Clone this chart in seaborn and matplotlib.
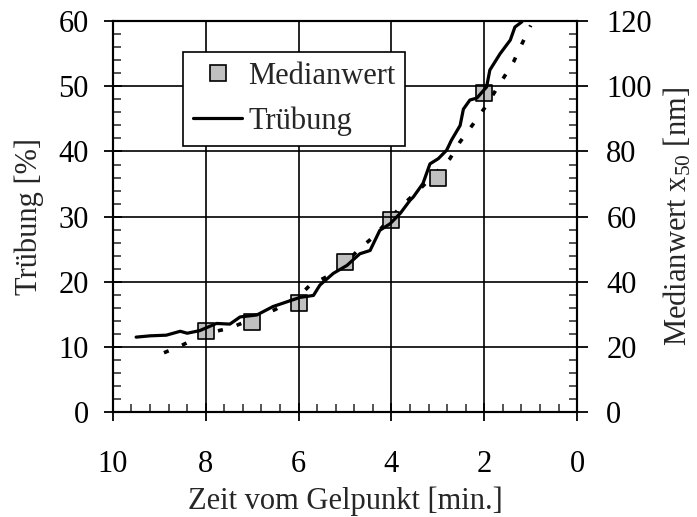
import matplotlib
matplotlib.use("Agg")
import matplotlib.pyplot as plt
import seaborn as sns
import numpy as np
import pandas as pd
from matplotlib.ticker import MultipleLocator
from matplotlib.lines import Line2D

# ---- data ----
median_x = [8, 7, 6, 5, 4, 3, 2]
median_nm = [25.0, 27.5, 33.5, 46.0, 59.0, 72.0, 98.0]

trueb_x = [9.5, 9.2, 8.85, 8.55, 8.4, 8.13, 7.77, 7.48, 7.26, 6.9, 6.55, 6.26, 5.97,
           5.68, 5.54, 5.25, 4.96, 4.68, 4.46, 4.25, 4.03, 3.81, 3.6, 3.53, 3.32,
           3.17, 2.99, 2.81, 2.71, 2.52, 2.45, 2.31, 2.16, 1.95, 1.88, 1.66, 1.44,
           1.34, 1.19]
trueb_y = [11.5, 11.7, 11.8, 12.4, 12.1, 12.5, 13.6, 13.5, 14.6, 14.9, 16.2, 16.9, 17.6,
           17.9, 19.5, 21.3, 22.5, 24.3, 24.8, 27.9, 28.9, 30.5, 32.5, 33.0, 35.1,
           38.1, 38.9, 40.2, 41.7, 44.0, 46.5, 47.9, 48.2, 49.9, 52.5, 55.0, 57.1,
           59.1, 59.9]

fit_x = [8.9, 8.5, 8.0, 7.5, 7.0, 6.5, 6.0, 5.75, 5.4, 5.0, 4.7, 4.4, 3.8, 3.35,
         2.74, 2.52, 2.23, 1.98, 1.62, 1.37, 1.19, 1.0]
fit_nm = [18.2, 20.6, 24.1, 25.7, 28.5, 31.5, 35.5, 39.0, 41.5, 45.5, 50.0, 53.6, 63.0,
          69.0, 77.8, 83.0, 88.6, 93.6, 101.8, 107.5, 113.0, 118.7]

legend_labels = ["Medianwert", "Trübung"]

# ---- style ----
sns.set_style("ticks")
plt.rcParams['font.family'] = ['Liberation Serif', 'DejaVu Serif']
plt.rcParams['mathtext.fontset'] = 'custom'
plt.rcParams['mathtext.rm'] = 'Liberation Serif'
plt.rcParams['mathtext.it'] = 'Liberation Serif'
FS = 22

fig = plt.figure(figsize=(6.97, 5.17), dpi=100)
ax = fig.add_axes([0.162, 0.203, 0.666, 0.756])
ax2 = ax.twinx()

df_t = pd.DataFrame({"x": trueb_x, "y": trueb_y})
df_m = pd.DataFrame({"x": median_x, "y": median_nm})
df_f = pd.DataFrame({"x": fit_x, "y": fit_nm})

sns.lineplot(data=df_f, x="x", y="y", ax=ax2, color="black", lw=2.6,
             linestyle=(0, (1.4, 4.0)), sort=False, estimator=None)
sns.scatterplot(data=df_m, x="x", y="y", ax=ax2, marker="s", s=125,
                color="#c0c0c0", edgecolor="black", linewidth=1.2, zorder=3)
sns.lineplot(data=df_t, x="x", y="y", ax=ax, color="black", lw=2.3,
             sort=False, estimator=None)

ax.set_zorder(ax2.get_zorder() + 1)
ax.patch.set_visible(False)

ax.set_xlim(10, 0)
ax.set_ylim(0, 60)
ax2.set_ylim(0, 120)

ax.xaxis.set_major_locator(MultipleLocator(2))
ax.xaxis.set_minor_locator(MultipleLocator(0.4))
ax.yaxis.set_major_locator(MultipleLocator(10))
ax.yaxis.set_minor_locator(MultipleLocator(2))
ax2.yaxis.set_major_locator(MultipleLocator(20))
ax2.yaxis.set_minor_locator(MultipleLocator(4))

ax.grid(True, which="major", color="black", lw=1.2)
ax2.grid(False)

for a in (ax, ax2):
    for s in a.spines.values():
        s.set_visible(True)
        s.set_color("black")
        s.set_linewidth(1.5)

ax.tick_params(axis="x", which="major", direction="inout", length=13, width=1.3,
               labelsize=FS, pad=21, colors="black", top=False)
ax.tick_params(axis="x", which="minor", direction="in", length=6, width=1.1, top=False)
ax.tick_params(axis="y", which="major", direction="inout", length=13, width=1.3,
               labelsize=FS, pad=11, colors="black")
ax.tick_params(axis="y", which="minor", direction="in", length=6, width=1.1)
ax2.tick_params(axis="y", which="major", direction="out", length=8, width=1.3,
                labelsize=FS, pad=13, colors="black")
ax2.tick_params(axis="y", which="minor", direction="in", length=6, width=1.1)

ax.set_xlabel("Zeit vom Gelpunkt [min.]", fontsize=FS, labelpad=5)
ax.set_ylabel("Trübung [%]", fontsize=FS, labelpad=10)
ax2.set_ylabel(r"Medianwert $x_{50}$ [nm]", fontsize=FS, labelpad=7)

handles = [
    Line2D([], [], marker="s", linestyle="none", markersize=11,
           markerfacecolor="#c0c0c0", markeredgecolor="black", markeredgewidth=1.2),
    Line2D([], [], color="black", lw=2.3),
]
leg = ax.legend(handles, legend_labels, loc="upper left",
                bbox_to_anchor=(0.151, 0.921), borderaxespad=0, fontsize=FS,
                frameon=True, fancybox=False, framealpha=1, edgecolor="black",
                handlelength=1.6, handletextpad=0.2, borderpad=0.33,
                labelspacing=0.5)
leg.get_frame().set_linewidth(1.2)

fig.savefig("out.png", dpi=100)
